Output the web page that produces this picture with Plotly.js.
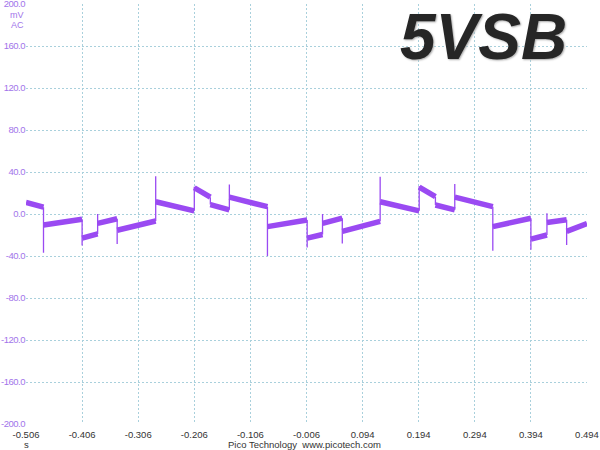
<!DOCTYPE html>
<html>
<head>
<meta charset="utf-8">
<script src="https://cdn.plot.ly/plotly-3.0.1.min.js"></script>
<style>
  html, body { margin: 0; padding: 0; background: #fff; }
  #plot { width: 600px; height: 450px; }
  #plot .ytick text { letter-spacing: -0.5px; }
</style>
</head>
<body>
<div id="plot"></div>
<script>
// each segment of the trace: start/end time (s), start/end level (mV)
var segT0 = [-0.506, -0.4748, -0.406, -0.3783, -0.3435, -0.2748, -0.206, -0.1774, -0.1435, -0.0756,
             -0.0048, 0.0226, 0.0578, 0.1253, 0.1949, 0.2238, 0.2583, 0.3261, 0.394, 0.4226, 0.4577];
var segT1 = [-0.4748, -0.406, -0.3783, -0.3435, -0.2748, -0.206, -0.1774, -0.1435, -0.0756, -0.0048,
             0.0226, 0.0578, 0.1253, 0.1949, 0.2238, 0.2583, 0.3261, 0.394, 0.4226, 0.4577, 0.494];
var segV0 = [11, -10.5, -23, -9, -15.5, 11.7, 25, 9, 16, -12,
             -23, -9, -16.5, 11.7, 25.5, 8.6, 16, -12, -24, -8, -16.5];
var segV1 = [6.5, -5, -19, -4.5, -6.7, 3, 16, 4, 7, -5.7,
             -19.5, -4, -7, 3, 16.5, 4, 7, -4, -20, -5.5, -9];
// spike reached at the start of each segment (edge overshoot)
var spikeV = [null, -37, -30, 0, -28.5, 36, 26, 9, 28, -40,
              -32, 0, -28, 35.5, 26.7, 8.6, 28.6, -35, -34, 0.6, -29.5];

var xTickVals = [-0.506, -0.406, -0.306, -0.206, -0.106, -0.006, 0.094, 0.194, 0.294, 0.394, 0.494];
var xTickText = ['-0.506', '-0.406', '-0.306', '-0.206', '-0.106', '-0.006', '0.094', '0.194', '0.294', '0.394', '0.494'];
var yTickVals = [200, 160, 120, 80, 40, 0, -40, -80, -120, -160, -200];
var yTickText = ['200.0', '160.0', '120.0', '80.0', '40.0', '0.0', '-40.0', '-80.0', '-120.0', '-160.0', '-200.0'];

var purple = '#9a4af2';
var labelPurple = '#a274ea';
var sans = 'Liberation Sans, Arial, sans-serif';

// noisy band for the sloped parts
var bandX = [], bandY = [];
for (let i = 0; i < segT0.length; i++) {
  bandX.push(segT0[i], segT1[i], null);
  bandY.push(segV0[i], segV1[i], null);
}

// thin vertical edges with their spikes
var edgeX = [], edgeY = [];
for (let i = 1; i < segT0.length; i++) {
  var t = segT0[i];
  edgeX.push(t, t, t, null);
  edgeY.push(segV1[i - 1], spikeV[i], segV0[i], null);
}

var band = {
  x: bandX, y: bandY, mode: 'lines', type: 'scatter',
  line: { color: purple, width: 5.5 }, hoverinfo: 'skip'
};
var edges = {
  x: edgeX, y: edgeY, mode: 'lines', type: 'scatter',
  line: { color: purple, width: 1.3 }, hoverinfo: 'skip'
};

var gridCol = '#a9d0dc';
var layout = {
  width: 600, height: 450,
  margin: { l: 26, r: 13, t: 4, b: 26 },
  paper_bgcolor: '#fff', plot_bgcolor: '#fff',
  showlegend: false,
  font: { family: sans, size: 10 },
  xaxis: {
    range: [-0.506, 0.494],
    tickvals: xTickVals, ticktext: xTickText,
    showgrid: true, gridcolor: gridCol, griddash: '2px,2px', gridwidth: 1,
    zeroline: false, showline: false, ticks: '', ticklabelstandoff: 3,
    ticklabeloverflow: 'allow',
    tickfont: { family: sans, color: '#333', size: 9.5 }
  },
  yaxis: {
    range: [-200, 200],
    tickvals: yTickVals, ticktext: yTickText,
    showgrid: true, gridcolor: gridCol, griddash: '2px,2px', gridwidth: 1,
    zeroline: false, showline: false, ticks: '', ticklabelstandoff: 0,
    ticklabeloverflow: 'allow',
    tickfont: { family: sans, color: labelPurple, size: 9.5 }
  },
  annotations: [
    { text: 'mV', xref: 'paper', yref: 'paper', x: 0, y: 0.9731, xanchor: 'right', yanchor: 'middle',
      xshift: -1, borderpad: 0, showarrow: false, font: { color: labelPurple, size: 9 } },
    { text: 'AC', xref: 'paper', yref: 'paper', x: 0, y: 0.9507, xanchor: 'right', yanchor: 'middle',
      xshift: -1, borderpad: 0, showarrow: false, font: { color: labelPurple, size: 9 } },
    { text: 's', xref: 'paper', yref: 'paper', x: 0, y: 0, xanchor: 'center', yanchor: 'top',
      xshift: 0, yshift: -14, borderpad: 0, showarrow: false, font: { color: '#333', size: 9.5 } },
    { text: 'Pico Technology  www.picotech.com', xref: 'paper', yref: 'paper', x: 0.497, y: 0,
      xanchor: 'center', yanchor: 'top', yshift: -14, borderpad: 0, showarrow: false,
      font: { color: '#333', size: 9.5 } },
    { text: '<b><i>5VSB</i></b>', xref: 'paper', yref: 'paper', x: 0.815, y: 1,
      xanchor: 'center', yanchor: 'top', yshift: 5, showarrow: false,
      font: { family: sans, size: 64, color: '#262626', shadow: '1px 1px 2px #aaa' } }
  ]
};

Plotly.newPlot('plot', [band, edges], layout, { staticPlot: true, displayModeBar: false });
</script>
</body>
</html>
